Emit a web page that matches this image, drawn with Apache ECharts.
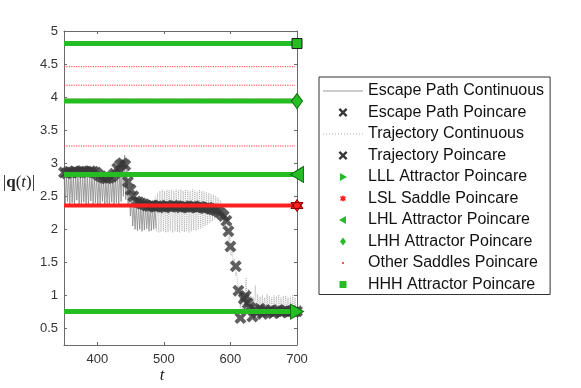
<!DOCTYPE html>
<html>
<head>
<meta charset="utf-8">
<script src="https://cdn.jsdelivr.net/npm/echarts@6/dist/echarts.min.js"></script>
<style>
  html, body { margin: 0; padding: 0; background: #fff; }
  #chart { width: 581px; height: 388px; }
</style>
</head>
<body>
<div id="chart"></div>
<script>
// axis ticks
const xTicks = [400, 500, 600, 700];
const yTicks = [0.5, 1, 1.5, 2, 2.5, 3, 3.5, 4, 4.5, 5];

// attractor / saddle levels of |q|
const lllLevel = 0.755;
const lslLevel = 2.36;
const lhlLevel = 2.83;
const lhhLevel = 3.94;
const hhhLevel = 4.81;
const otherSaddleLevels = [4.46, 4.18, 3.97, 3.26];

// poincare points of the trajectory (before and after the escape)
const trajPoincareT1 = [350, 354, 358, 362, 366, 370, 374, 378, 382, 386, 390, 394, 398, 402, 406, 410, 414, 418, 422, 426, 430, 434, 438, 442, 446, 450, 454, 458];
const trajPoincareY1 = [2.86, 2.85, 2.87, 2.86, 2.88, 2.86, 2.87, 2.88, 2.87, 2.86, 2.88, 2.87, 2.86, 2.82, 2.80, 2.78, 2.77, 2.78, 2.80, 2.84, 2.92, 2.97, 3.0, 2.97, 2.72, 2.6, 2.5, 2.42];
const trajPoincareT2 = [640, 644, 648, 652, 656, 660, 664, 668, 672, 676, 680, 684, 688, 692, 696, 700];
const trajPoincareY2 = [0.74, 0.8, 0.72, 0.78, 0.75, 0.77, 0.73, 0.76, 0.78, 0.74, 0.76, 0.77, 0.75, 0.76, 0.75, 0.76];

// poincare points of the escape path
const escPoincareT = [462, 466, 470, 474, 478, 482, 486, 490, 494, 498, 502, 506, 510, 514, 518, 522, 526, 530, 534, 538, 542, 546, 550, 554, 558, 562, 566, 570, 574, 578,
  582, 586, 590, 594, 597, 600, 608, 612, 615, 620, 623, 626, 629, 633, 637];
const escPoincareY = [2.41, 2.39, 2.38, 2.36, 2.35, 2.36, 2.34, 2.35, 2.36, 2.34, 2.33, 2.35, 2.34, 2.36, 2.35, 2.34, 2.33, 2.35, 2.34, 2.33, 2.34, 2.35, 2.33, 2.34, 2.33, 2.32, 2.33, 2.31, 2.30, 2.29,
  2.27, 2.24, 2.2, 2.13, 1.97, 1.74, 1.44, 1.07, 0.66, 0.95, 0.99, 0.88, 0.82, 0.68, 0.78];

// continuous curves: upper / lower turning points per oscillation
const contStep = 3.5;
const escContT0 = 350;
const escContHi = [2.83, 2.82, 2.84, 2.83, 2.82, 2.84, 2.83, 2.82, 2.84, 2.83, 2.82, 2.83, 2.84, 2.82, 2.81, 2.80, 2.78, 2.77, 2.76, 2.77, 2.78, 2.80, 2.82, 2.86, 2.95,
  3.05, 3.12, 2.9, 2.6, 2.45, 2.38,
  2.36, 2.35, 2.36, 2.35, 2.36, 2.35, 2.36, 2.35, 2.36];
const escContLo = [2.38, 2.42, 2.36, 2.40, 2.37, 2.44, 2.36, 2.39, 2.41, 2.36, 2.38, 2.43, 2.37, 2.40, 2.36, 2.38, 2.42, 2.37, 2.39, 2.36, 2.41, 2.38, 2.40, 2.37, 2.42,
  2.5, 2.45, 2.38, 2.2, 2.05, 2.0,
  1.98, 2.0, 1.97, 1.99, 2.01, 1.97, 1.98, 2.0, 2.02];
const trajContT0 = 487;
const trajContHi = [2.5, 2.55, 2.58, 2.6, 2.58, 2.6, 2.59, 2.6, 2.58, 2.6, 2.59, 2.6, 2.58, 2.6, 2.59, 2.58, 2.6, 2.59, 2.57, 2.6, 2.58, 2.57, 2.56, 2.55, 2.53, 2.52, 2.5,
  2.48, 2.44, 2.38, 2.28, 2.1, 1.9,
  1.75, 1.55, 1.35, 1.15, 1.05,
  1.05, 1.27, 1.1, 1.0, 0.98, 1.15, 1.02, 0.98, 1.0, 0.97, 1.02, 0.99, 0.97, 1.0, 0.98, 1.01, 0.97, 0.99, 1.0, 0.97, 0.98, 1.0, 0.96];
const trajContLo = [1.97, 1.95, 1.96, 1.97, 1.95, 1.96, 1.98, 1.95, 1.97, 1.96, 1.95, 1.97, 1.96, 1.98, 1.95, 1.97, 1.99, 1.98, 2.0, 2.01, 2.03, 2.05, 2.07, 2.1, 2.12, 2.15, 2.18,
  2.2, 2.18, 2.1, 1.95, 1.75, 1.6,
  1.5, 1.3, 1.05, 0.8, 0.68,
  0.7, 0.72, 0.7, 0.73, 0.71, 0.7, 0.72, 0.71, 0.73, 0.7, 0.72, 0.71, 0.7, 0.72, 0.71, 0.73, 0.7, 0.72, 0.71, 0.7, 0.72, 0.71, 0.72];

const legendNames = [
  'Escape Path Continuous', 'Escape Path Poincare', 'Trajectory Continuous', 'Trajectory Poincare',
  'LLL Attractor Poincare', 'LSL Saddle Poincare', 'LHL Attractor Poincare', 'LHH Attractor Poincare',
  'Other Saddles Poincare', 'HHH Attractor Poincare',
];

const X_MIN = 350, X_MAX = 700;
const GREEN = '#24bd24';
const RED = '#ff2020';
const DARK = '#383838';

const SYM_X = 'path://M0,2.3L2.3,0L5,2.7L7.7,0L10,2.3L7.3,5L10,7.7L7.7,10L5,7.3L2.3,10L0,7.7L2.7,5Z';
const SYM_RIGHT = 'path://M0,0L10,5L0,10Z';
const SYM_LEFT = 'path://M10,0L0,5L10,10Z';
const SYM_HEX = 'path://M5,0L9.33,7.5L0.67,7.5Z M5,10L0.67,2.5L9.33,2.5Z';

// legend icons (M0,0M10,10 pads the bbox so the glyph stays small)
const PAD = 'path://M0,0M10,10';
const LEG_X = PAD + 'M0.5,2.2L2.2,0.5L5,3.3L7.8,0.5L9.5,2.2L6.7,5L9.5,7.8L7.8,9.5L5,6.7L2.2,9.5L0.5,7.8L3.3,5Z';
let dots = 'path://M0,0M40,10';
for (let k = 0; k < 14; k++) dots += 'M' + (k * 3) + ',4.5h1v1h-1z';
const legendIcons = [
  ['path://M0,0M40,10M0,4.5H40V5.5H0Z', '#9a9a9a'],
  [LEG_X, DARK],
  [dots, '#b0b0b0'],
  [LEG_X, DARK],
  [PAD + 'M2,1L9,5L2,9Z', GREEN],
  [PAD + 'M5,1.5L8.2,7L1.8,7Z M5,8.5L1.8,3L8.2,3Z', RED],
  [PAD + 'M8,1L1,5L8,9Z', GREEN],
  [PAD + 'M5,1L8,5L5,9L2,5Z', GREEN],
  [PAD + 'M4,5a1,1 0 1,0 2,0a1,1 0 1,0 -2,0Z', RED],
  [PAD + 'M1.5,1.5H8.5V8.5H1.5Z', GREEN],
];

function zip(ts, ys) {
  return ts.map((t, i) => [t, ys[i]]);
}

function zigzag(t0, step, hi, lo) {
  const out = [];
  for (let i = 0; i < hi.length; i++) {
    out.push([t0 + i * step, hi[i]]);
    out.push([t0 + i * step + step / 2, lo[i]]);
  }
  return out;
}

function levelLine(name, level, color, width, symbol, size, border) {
  return {
    name: name,
    type: 'line',
    clip: false,
    silent: true,
    z: 5,
    symbol: symbol,
    symbolSize: size,
    showSymbol: true,
    color: color,
    lineStyle: { color: color, width: width },
    itemStyle: { color: color, borderColor: border, borderWidth: 1 },
    data: [{ value: [X_MIN, level], symbol: 'none' }, [X_MAX, level]],
  };
}

const chart = echarts.init(document.getElementById('chart'), null, { renderer: 'canvas' });

const axisCommon = {
  axisLine: { show: true, onZero: false, lineStyle: { color: '#6a6a6a', width: 1 } },
  splitLine: { show: false },
};

const option = {
  animation: false,
  backgroundColor: '#fff',
  grid: { left: 64, right: 284, top: 31, bottom: 43 },
  xAxis: [
    {
      ...axisCommon,
      type: 'value', min: X_MIN, max: X_MAX, position: 'bottom',
      axisTick: { inside: true, length: 3, customValues: xTicks, lineStyle: { color: '#6a6a6a' } },
      axisLabel: { customValues: xTicks, margin: 8, fontSize: 13, color: '#333', fontFamily: 'Liberation Sans' },
    },
    {
      ...axisCommon,
      type: 'value', min: X_MIN, max: X_MAX, position: 'top',
      axisTick: { inside: true, length: 3, customValues: xTicks, lineStyle: { color: '#6a6a6a' } },
      axisLabel: { show: false },
    },
  ],
  yAxis: [
    {
      ...axisCommon,
      type: 'value', min: 0.25, max: 5, position: 'left',
      axisTick: { inside: true, length: 3, customValues: yTicks, lineStyle: { color: '#6a6a6a' } },
      axisLabel: { customValues: yTicks, margin: 6, fontSize: 13, color: '#333', fontFamily: 'Liberation Sans' },
    },
    {
      ...axisCommon,
      type: 'value', min: 0.25, max: 5, position: 'right',
      axisTick: { inside: true, length: 3, customValues: yTicks, lineStyle: { color: '#6a6a6a' } },
      axisLabel: { show: false },
    },
  ],
  legend: {
    orient: 'vertical',
    left: 319,
    top: 77,
    padding: [6, 6, 2, 4],
    itemWidth: 40,
    itemHeight: 10,
    itemGap: 5.5,
    borderColor: '#333',
    borderWidth: 1,
    selectedMode: false,
    symbolKeepAspect: true,
    textStyle: { fontFamily: 'Liberation Sans', fontSize: 16, lineHeight: 14, color: '#111' },
    data: legendNames.map((n, i) => ({
      name: n,
      icon: legendIcons[i][0],
      itemStyle: { color: legendIcons[i][1], borderWidth: 0, opacity: 1 },
    })),
  },
  graphic: [
    {
      type: 'text', x: 19, y: 183, silent: true,
      style: {
        text: '{n||}{b|q}{n|(}{i|t}{n|)|}',
        align: 'center', verticalAlign: 'middle',
        rich: {
          n: { fontFamily: 'Liberation Serif', fontSize: 17, fill: '#222' },
          b: { fontFamily: 'Liberation Serif', fontSize: 17, fontWeight: 'bold', fill: '#222' },
          i: { fontFamily: 'Liberation Serif', fontSize: 17, fontStyle: 'italic', fill: '#222' },
        },
      },
    },
    {
      type: 'text', x: 162, y: 376, silent: true,
      style: {
        text: 't', align: 'center', verticalAlign: 'middle',
        fontFamily: 'Liberation Serif', fontSize: 17, fontStyle: 'italic', fill: '#222',
      },
    },
  ],
  series: [
    {
      name: 'Escape Path Continuous',
      type: 'line', silent: true, z: 1,
      symbol: 'none', color: '#888',
      lineStyle: { color: '#888', width: 0.8 },
      data: zigzag(escContT0, contStep, escContHi, escContLo),
    },
    {
      name: 'Trajectory Continuous',
      type: 'line', silent: true, z: 1,
      symbol: 'none', color: '#9c9c9c',
      lineStyle: { color: '#9c9c9c', width: 0.7, type: [1, 1] },
      data: zigzag(trajContT0, contStep, trajContHi, trajContLo),
    },
    {
      name: 'Escape Path Poincare',
      type: 'scatter', silent: true, z: 3,
      symbol: SYM_X, symbolSize: 12,
      itemStyle: { color: DARK },
      data: zip(escPoincareT, escPoincareY),
    },
    {
      name: 'Trajectory Poincare',
      type: 'scatter', silent: true, z: 3,
      symbol: SYM_X, symbolSize: 12,
      itemStyle: { color: DARK },
      data: zip(trajPoincareT1, trajPoincareY1).concat(zip(trajPoincareT2, trajPoincareY2)),
    },
    levelLine('LLL Attractor Poincare', lllLevel, GREEN, 5, SYM_RIGHT, [13, 15], '#0d6a0d'),
    levelLine('LSL Saddle Poincare', lslLevel, RED, 4, SYM_HEX, 12, '#8a0000'),
    levelLine('LHL Attractor Poincare', lhlLevel, GREEN, 5, SYM_LEFT, [13, 16], '#0d6a0d'),
    levelLine('LHH Attractor Poincare', lhhLevel, GREEN, 5, 'diamond', [11, 15], '#0d6a0d'),
  ].concat(otherSaddleLevels.map((lv) => ({
    name: 'Other Saddles Poincare',
    type: 'line', silent: true, z: 4,
    symbol: 'none', color: RED,
    lineStyle: { color: '#ff3b3b', width: 1, type: [1.2, 1.2] },
    data: [[X_MIN, lv], [X_MAX - 3, lv]],
  }))).concat([
    levelLine('HHH Attractor Poincare', hhhLevel, GREEN, 5, 'rect', 10, '#1a1a1a'),
  ]),
};

chart.setOption(option);
</script>
</body>
</html>
